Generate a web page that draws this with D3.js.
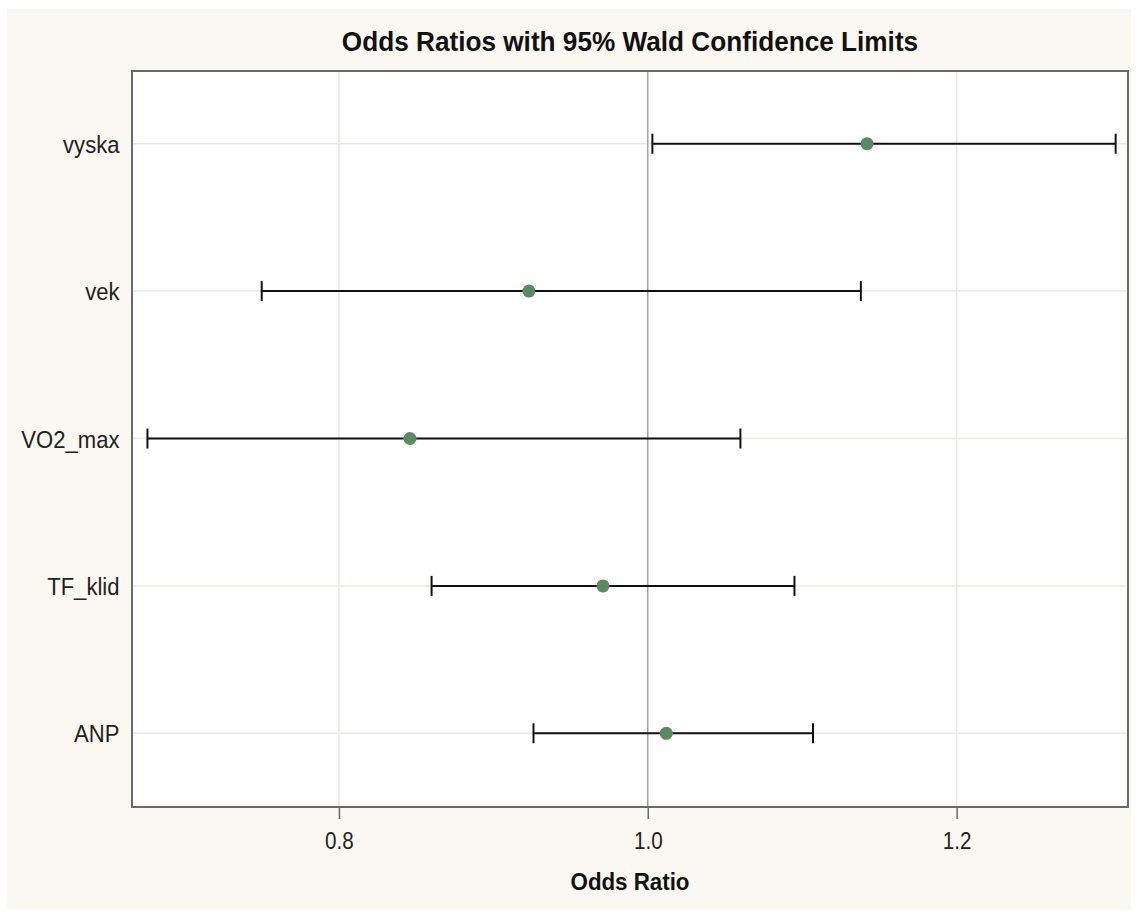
<!DOCTYPE html>
<html>
<head>
<meta charset="utf-8">
<script src="https://cdn.jsdelivr.net/npm/d3@7"></script>
<style>
  html, body { margin: 0; padding: 0; background: #ffffff; }
  svg { display: block; }
  text { font-family: "Liberation Sans", Arial, sans-serif; }
</style>
</head>
<body>
<svg id="chart" width="1138" height="912"></svg>
<script>
// Effects (top to bottom) and their odds ratios with 95% Wald limits
const effects = ["vyska", "vek", "VO2_max", "TF_klid", "ANP"];
const oddsRatio = [1.142, 0.923, 0.846, 0.971, 1.012];
const lowerCL   = [1.003, 0.750, 0.676, 0.860, 0.926];
const upperCL   = [1.303, 1.138, 1.060, 1.095, 1.107];
const xTicks = [0.8, 1.0, 1.2];
const xDomain = [0.666, 1.311];

const rows = effects.map((name, i) => ({
  name, or: oddsRatio[i], lo: lowerCL[i], hi: upperCL[i]
}));

const plot = { left: 132, top: 71, right: 1128, bottom: 807 };

const svg = d3.select("#chart");

// page frame
svg.append("rect")
  .attr("x", 7).attr("y", 9)
  .attr("width", 1124).attr("height", 901)
  .attr("fill", "#fbf8f1");

// plot wall
svg.append("rect")
  .attr("x", plot.left).attr("y", plot.top)
  .attr("width", plot.right - plot.left).attr("height", plot.bottom - plot.top)
  .attr("fill", "#ffffff");

const x = d3.scaleLinear().domain(xDomain).range([plot.left, plot.right]);
const y = d3.scalePoint().domain(effects).range([plot.top - 1, plot.bottom]).padding(0.5);

// grid lines
const grid = svg.append("g");
grid.selectAll("line.h").data(effects).join("line")
  .attr("class", "h")
  .attr("x1", plot.left).attr("x2", plot.right)
  .attr("y1", d => y(d)).attr("y2", d => y(d))
  .attr("stroke", "#ebe9dd").attr("stroke-width", 1.5);
grid.selectAll("line.v").data(xTicks.filter(t => t !== 1)).join("line")
  .attr("class", "v")
  .attr("x1", d => x(d)).attr("x2", d => x(d))
  .attr("y1", plot.top).attr("y2", plot.bottom)
  .attr("stroke", "#ebe9dd").attr("stroke-width", 1.5);

// reference line at OR = 1
svg.append("line")
  .attr("x1", x(1)).attr("x2", x(1))
  .attr("y1", plot.top).attr("y2", plot.bottom)
  .attr("stroke", "#a3a3a3").attr("stroke-width", 1.5);

// confidence intervals
const ci = svg.append("g").attr("stroke", "#111").attr("stroke-width", 2);
ci.selectAll("line.bar").data(rows).join("line")
  .attr("class", "bar")
  .attr("x1", d => x(d.lo)).attr("x2", d => x(d.hi))
  .attr("y1", d => y(d.name)).attr("y2", d => y(d.name));
ci.selectAll("line.capL").data(rows).join("line")
  .attr("class", "capL")
  .attr("x1", d => x(d.lo)).attr("x2", d => x(d.lo))
  .attr("y1", d => y(d.name) - 10).attr("y2", d => y(d.name) + 10);
ci.selectAll("line.capR").data(rows).join("line")
  .attr("class", "capR")
  .attr("x1", d => x(d.hi)).attr("x2", d => x(d.hi))
  .attr("y1", d => y(d.name) - 10).attr("y2", d => y(d.name) + 10);

// point estimates
svg.append("g").selectAll("circle").data(rows).join("circle")
  .attr("cx", d => x(d.or)).attr("cy", d => y(d.name))
  .attr("r", 6.5)
  .attr("fill", "#5b8a61");

// plot border
svg.append("rect")
  .attr("x", plot.left).attr("y", plot.top)
  .attr("width", plot.right - plot.left).attr("height", plot.bottom - plot.top)
  .attr("fill", "none").attr("stroke", "#6a6a64").attr("stroke-width", 2);

// x axis
const xAxis = svg.append("g")
  .attr("transform", `translate(0,${plot.bottom})`)
  .call(d3.axisBottom(x).tickValues(xTicks).tickFormat(d3.format(".1f")).tickSize(12).tickSizeOuter(0));
xAxis.select(".domain").remove();
xAxis.selectAll(".tick line").attr("stroke", "#6a6a64").attr("stroke-width", 1.5);
xAxis.selectAll(".tick text")
  .attr("y", 0).attr("dy", null)
  .attr("transform", "translate(0,42) scale(0.86,1)")
  .attr("font-size", 24)
  .attr("fill", "#222");

// y axis (labels only)
const yAxis = svg.append("g")
  .attr("transform", `translate(${plot.left},0)`)
  .call(d3.axisLeft(y).tickSize(0).tickSizeOuter(0));
yAxis.select(".domain").remove();
yAxis.selectAll(".tick text")
  .attr("x", 0).attr("dy", null).attr("y", 0)
  .attr("transform", "translate(-12.5,8.5) scale(0.92,1)")
  .attr("text-anchor", "end")
  .attr("font-size", 24)
  .attr("fill", "#222");

// title
svg.append("text")
  .attr("transform", `translate(${(plot.left + plot.right) / 2},51) scale(0.97,1)`)
  .attr("text-anchor", "middle")
  .attr("font-size", 27).attr("font-weight", "bold")
  .attr("fill", "#111")
  .text("Odds Ratios with 95% Wald Confidence Limits");

// x axis label
svg.append("text")
  .attr("transform", `translate(${(plot.left + plot.right) / 2},890) scale(0.93,1)`)
  .attr("text-anchor", "middle")
  .attr("font-size", 24).attr("font-weight", "bold")
  .attr("fill", "#111")
  .text("Odds Ratio");
</script>
</body>
</html>
